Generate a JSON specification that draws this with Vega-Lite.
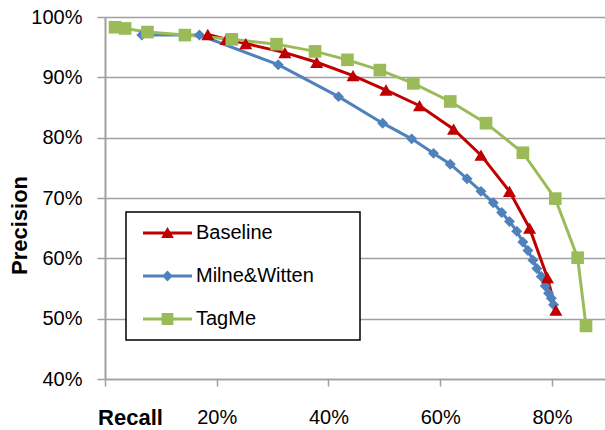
{
  "$schema": "https://vega.github.io/schema/vega-lite/v6.json",
  "width": 500,
  "height": 362,
  "autosize": {"type": "none"},
  "padding": {"left": 105, "top": 17, "right": 0, "bottom": 51},
  "background": "white",
  "config": {"view": {"stroke": null}, "font": "Liberation Sans"},
  "data": {
    "values": [
      {"series": "Milne&Witten", "recall": 0.066, "precision": 0.970},
      {"series": "Milne&Witten", "recall": 0.169, "precision": 0.970},
      {"series": "Milne&Witten", "recall": 0.310, "precision": 0.921},
      {"series": "Milne&Witten", "recall": 0.418, "precision": 0.868},
      {"series": "Milne&Witten", "recall": 0.497, "precision": 0.824},
      {"series": "Milne&Witten", "recall": 0.549, "precision": 0.798},
      {"series": "Milne&Witten", "recall": 0.588, "precision": 0.774},
      {"series": "Milne&Witten", "recall": 0.618, "precision": 0.756},
      {"series": "Milne&Witten", "recall": 0.648, "precision": 0.732},
      {"series": "Milne&Witten", "recall": 0.673, "precision": 0.711},
      {"series": "Milne&Witten", "recall": 0.695, "precision": 0.692},
      {"series": "Milne&Witten", "recall": 0.710, "precision": 0.676},
      {"series": "Milne&Witten", "recall": 0.724, "precision": 0.661},
      {"series": "Milne&Witten", "recall": 0.737, "precision": 0.645},
      {"series": "Milne&Witten", "recall": 0.748, "precision": 0.627},
      {"series": "Milne&Witten", "recall": 0.757, "precision": 0.613},
      {"series": "Milne&Witten", "recall": 0.766, "precision": 0.597},
      {"series": "Milne&Witten", "recall": 0.773, "precision": 0.583},
      {"series": "Milne&Witten", "recall": 0.781, "precision": 0.570},
      {"series": "Milne&Witten", "recall": 0.788, "precision": 0.554},
      {"series": "Milne&Witten", "recall": 0.794, "precision": 0.542},
      {"series": "Milne&Witten", "recall": 0.799, "precision": 0.534},
      {"series": "Milne&Witten", "recall": 0.803, "precision": 0.523},
      {"series": "Baseline", "recall": 0.184, "precision": 0.971},
      {"series": "Baseline", "recall": 0.217, "precision": 0.963},
      {"series": "Baseline", "recall": 0.252, "precision": 0.956},
      {"series": "Baseline", "recall": 0.322, "precision": 0.941},
      {"series": "Baseline", "recall": 0.379, "precision": 0.925},
      {"series": "Baseline", "recall": 0.444, "precision": 0.903},
      {"series": "Baseline", "recall": 0.503, "precision": 0.879},
      {"series": "Baseline", "recall": 0.563, "precision": 0.853},
      {"series": "Baseline", "recall": 0.624, "precision": 0.814},
      {"series": "Baseline", "recall": 0.673, "precision": 0.771},
      {"series": "Baseline", "recall": 0.724, "precision": 0.711},
      {"series": "Baseline", "recall": 0.760, "precision": 0.650},
      {"series": "Baseline", "recall": 0.792, "precision": 0.568},
      {"series": "Baseline", "recall": 0.807, "precision": 0.514},
      {"series": "TagMe", "recall": 0.018, "precision": 0.983},
      {"series": "TagMe", "recall": 0.036, "precision": 0.981},
      {"series": "TagMe", "recall": 0.076, "precision": 0.975},
      {"series": "TagMe", "recall": 0.143, "precision": 0.970},
      {"series": "TagMe", "recall": 0.227, "precision": 0.963},
      {"series": "TagMe", "recall": 0.307, "precision": 0.955},
      {"series": "TagMe", "recall": 0.376, "precision": 0.943},
      {"series": "TagMe", "recall": 0.434, "precision": 0.929},
      {"series": "TagMe", "recall": 0.492, "precision": 0.912},
      {"series": "TagMe", "recall": 0.552, "precision": 0.890},
      {"series": "TagMe", "recall": 0.618, "precision": 0.860},
      {"series": "TagMe", "recall": 0.682, "precision": 0.824},
      {"series": "TagMe", "recall": 0.748, "precision": 0.775},
      {"series": "TagMe", "recall": 0.806, "precision": 0.699},
      {"series": "TagMe", "recall": 0.846, "precision": 0.601},
      {"series": "TagMe", "recall": 0.861, "precision": 0.488}
    ]
  },
  "encoding": {
    "x": {
      "field": "recall",
      "type": "quantitative",
      "scale": {"domain": [0, 0.895], "nice": false},
      "axis": {
        "values": [0, 0.2, 0.4, 0.6, 0.8],
        "labelExpr": "datum.value == 0 ? '' : format(datum.value, '.0%')",
        "grid": false,
        "domainColor": "#A0A0A0",
        "domainWidth": 1.5,
        "tickColor": "#A0A0A0",
        "tickWidth": 1.5,
        "tickSize": 7,
        "labelFontSize": 20,
        "labelColor": "black",
        "labelPadding": 31,
        "labelBaseline": "middle",
        "labelFlush": false,
        "labelOverlap": false,
        "title": "Recall",
        "titleFontSize": 22,
        "titleFontWeight": "bold",
        "titleColor": "black",
        "titleX": 25,
        "titleY": 38,
        "titleAlign": "center",
        "titleBaseline": "middle"
      }
    },
    "y": {
      "field": "precision",
      "type": "quantitative",
      "scale": {"domain": [0.4, 1], "nice": false, "zero": false},
      "axis": {
        "values": [0.4, 0.5, 0.6, 0.7, 0.8, 0.9, 1.0],
        "format": ".0%",
        "grid": true,
        "gridColor": "#A0A0A0",
        "gridWidth": 1.5,
        "domainColor": "#A0A0A0",
        "domainWidth": 2,
        "tickColor": "#A0A0A0",
        "tickWidth": 1.5,
        "tickSize": 8,
        "labelFontSize": 20,
        "labelColor": "black",
        "labelPadding": 15,
        "labelFlush": false,
        "labelOverlap": false,
        "title": "Precision",
        "titleFontSize": 22,
        "titleFontWeight": "bold",
        "titleColor": "black",
        "titleX": -86,
        "titleY": 208,
        "titleAlign": "center",
        "titleBaseline": "middle",
        "titleAngle": -90
      }
    }
  },
  "layer": [
    {
      "mark": {"type": "line", "strokeWidth": 3},
      "encoding": {
        "color": {
          "field": "series",
          "type": "nominal",
          "scale": {"domain": ["Baseline", "Milne&Witten", "TagMe"], "range": ["#C00000", "#4F81BD", "#9BBB59"]},
          "legend": {
            "title": "x",
            "titleOrient": "right",
            "titleFontSize": 4,
            "titleColor": "white",
            "titlePadding": 32,
            "orient": "none",
            "legendX": 21,
            "legendY": 195,
            "strokeColor": "black",
            "fillColor": "white",
            "padding": 11,
            "clipHeight": 20,
            "rowPadding": 23,
            "symbolSize": 2401,
            "symbolStrokeWidth": 0,
            "symbolOffset": 6,
            "labelOffset": 4,
            "labelFontSize": 20,
            "labelColor": "black",
            "labelLimit": 300,
            "encode": {
              "legend": {"update": {"strokeWidth": {"value": 1.5}}},
              "symbols": {
                "update": {
                  "shape": {"signal": "datum.value === 'Baseline' ? 'M-1,-0.06L1,-0.06L1,0.06L-1,0.06ZM0,-0.24L0.26,0.2L-0.26,0.2Z' : datum.value === 'TagMe' ? 'M-1,-0.06L1,-0.06L1,0.06L-1,0.06ZM-0.24,-0.24L0.24,-0.24L0.24,0.24L-0.24,0.24Z' : 'M-1,-0.06L1,-0.06L1,0.06L-1,0.06ZM0,-0.22L0.22,0L0,0.22L-0.22,0Z'"},
                  "size": {"value": 2401},
                  "strokeWidth": {"value": 0},
                  "opacity": {"value": 1}
                }
              }
            }
          }
        }
      }
    },
    {
      "transform": [{"filter": {"field": "series", "equal": "Milne&Witten"}}],
      "mark": {"type": "point", "shape": "diamond", "size": 120, "filled": true, "opacity": 1, "strokeWidth": 0},
      "encoding": {"color": {"field": "series", "type": "nominal"}}
    },
    {
      "transform": [{"filter": {"field": "series", "equal": "Baseline"}}],
      "mark": {"type": "point", "shape": "triangle-up", "size": 170, "filled": true, "opacity": 1, "strokeWidth": 0},
      "encoding": {"color": {"field": "series", "type": "nominal"}}
    },
    {
      "transform": [{"filter": {"field": "series", "equal": "TagMe"}}],
      "mark": {"type": "point", "shape": "square", "size": 160, "filled": true, "opacity": 1, "strokeWidth": 0},
      "encoding": {"color": {"field": "series", "type": "nominal"}}
    }
  ]
}
